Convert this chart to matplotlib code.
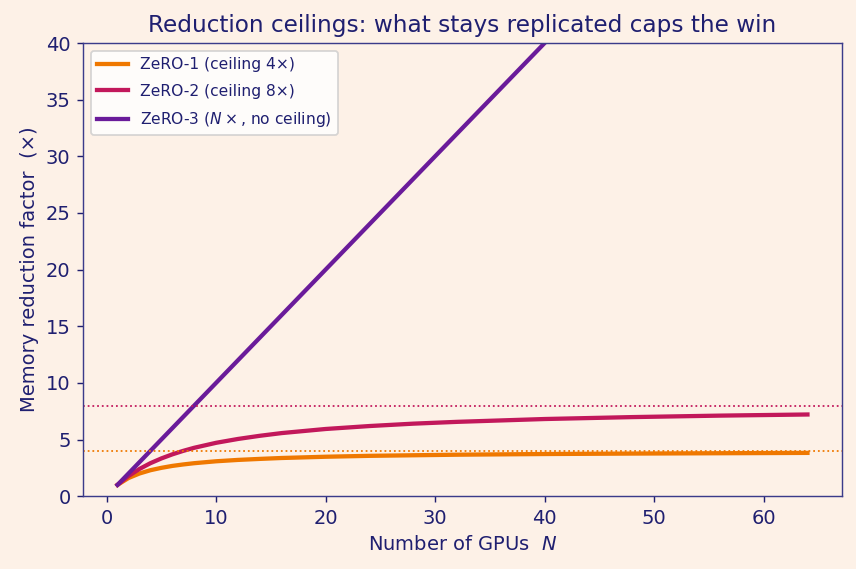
import matplotlib.pyplot as plt

# Valores (número de GPUs e fator de redução)
gpus = [1, 2, 3, 4, 5, 6, 7, 8, 10, 12, 14, 16, 20, 24, 28, 32, 40, 48, 56, 64]
zero1 = [1.0, 1.6, 2.0, 2.29, 2.5, 2.67, 2.8, 2.91, 3.08, 3.2, 3.29, 3.37,
         3.48, 3.56, 3.61, 3.66, 3.72, 3.76, 3.79, 3.82]
zero2 = [1.0, 1.78, 2.4, 2.91, 3.33, 3.69, 4.0, 4.27, 4.71, 5.05, 5.33, 5.57,
         5.93, 6.19, 6.4, 6.56, 6.81, 6.98, 7.11, 7.21]
gpus3 = [1, 64]
zero3 = [1, 64]
tetos = [4, 8]

navy = '#1f1f70'
bg = '#fdf1e7'
c1, c2, c3 = '#ef7800', '#c2185b', '#6a1b9a'

fig, ax = plt.subplots(figsize=(856 / 128, 569 / 128), dpi=128)
fig.patch.set_facecolor(bg)
ax.set_facecolor(bg)

ax.plot(gpus, zero1, color=c1, lw=2.4, label='ZeRO-1 (ceiling 4×)')
ax.plot(gpus, zero2, color=c2, lw=2.4, label='ZeRO-2 (ceiling 8×)')
ax.plot(gpus3, zero3, color=c3, lw=2.4, label=r'ZeRO-3 ($N\times$, no ceiling)')
ax.axhline(tetos[0], color=c1, lw=1, ls=':')
ax.axhline(tetos[1], color=c2, lw=1, ls=':')

ax.set_ylim(0, 40)
ax.set_xlim(-2.15, 67.15)
ax.set_title('Reduction ceilings: what stays replicated caps the win',
             color=navy, fontsize=13)
ax.set_xlabel('Number of GPUs  $N$', color=navy, fontsize=11)
ax.set_ylabel('Memory reduction factor  (×)', color=navy, fontsize=11)
ax.tick_params(colors=navy, labelsize=11)
for s in ax.spines.values():
    s.set_color('#3b3b8a')

leg = ax.legend(loc='upper left', fontsize=8.7, labelcolor=navy,
                facecolor='white', framealpha=0.8, labelspacing=0.75)

plt.subplots_adjust(left=0.097, right=0.9836, top=0.9244, bottom=0.128)
plt.savefig('out.png', dpi=128, facecolor=bg)
